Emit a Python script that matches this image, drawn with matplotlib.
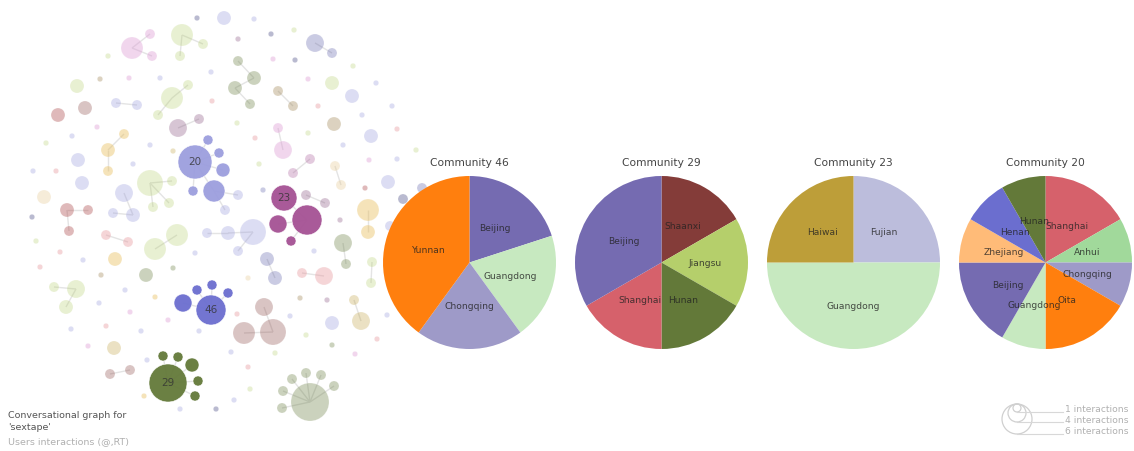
import matplotlib
matplotlib.use('Agg')
import matplotlib.pyplot as plt
from matplotlib.patches import Circle
from matplotlib.collections import LineCollection

W, H = 1134, 452

# ---- network layout (x, y, radius) in pixel space, grouped by colour ----
lavender = [(224, 19, 7), (254, 20, 2.7), (211, 73, 2.7), (160, 79, 2.7), (116, 104, 5), (137, 106, 5),
            (72, 137, 2.7), (150, 146, 2.7), (78, 161, 7), (33, 172, 2.7), (133, 165, 2.7), (82, 184, 7),
            (124, 194, 9), (113, 214, 5), (133, 216, 7), (352, 97, 7), (376, 84, 2.7), (392, 107, 2.7),
            (362, 116, 2.7), (371, 137, 7), (343, 146, 2.7), (397, 160, 2.7), (388, 183, 7), (238, 196, 5),
            (225, 211, 5), (253, 233, 13), (228, 234, 7), (207, 234, 5), (238, 252, 5), (314, 252, 2.7),
            (332, 324, 7), (290, 317, 2.7), (387, 316, 2.7), (231, 353, 2.7), (234, 401, 2.7), (180, 410, 2.7),
            (147, 361, 2.7), (199, 332, 2.7), (141, 332, 2.7), (195, 254, 2.7), (83, 261, 2.7), (125, 291, 2.7),
            (99, 304, 2.7), (71, 330, 2.7), (390, 227, 5)]
slate = [(197, 19, 2.7), (271, 35, 2.7), (295, 61, 2.7), (32, 218, 2.7), (403, 200, 5), (216, 410, 2.7)]
slateblue = [(315, 44, 9), (332, 54, 5), (267, 260, 7), (275, 279, 7), (263, 191, 2.7), (422, 189, 5)]
lightgreen = [(182, 36, 11), (203, 45, 5), (180, 57, 5), (108, 57, 2.7), (77, 87, 7), (172, 99, 11),
              (188, 86, 5), (158, 116, 5), (46, 144, 2.7), (150, 184, 13), (172, 182, 5), (153, 208, 5),
              (169, 204, 5), (294, 31, 2.7), (353, 67, 2.7), (332, 84, 7), (237, 124, 2.7), (308, 134, 2.7),
              (259, 165, 2.7), (416, 151, 2.7), (372, 263, 5), (371, 284, 5), (306, 336, 2.7), (275, 354, 2.7),
              (250, 390, 2.7), (36, 242, 2.7), (177, 236, 11), (155, 250, 11), (54, 288, 5), (76, 290, 9),
              (66, 308, 7)]
pink = [(132, 49, 11), (150, 35, 5), (152, 57, 5), (129, 79, 2.7), (97, 128, 2.7), (273, 60, 2.7),
        (308, 80, 2.7), (278, 129, 5), (283, 151, 9), (369, 161, 2.7), (355, 355, 2.7), (130, 313, 2.7),
        (168, 321, 2.7), (88, 347, 2.7)]
redpink = [(212, 102, 2.7), (56, 172, 2.7), (318, 107, 2.7), (255, 139, 2.7), (397, 130, 2.7),
           (302, 274, 5), (324, 277, 9), (237, 315, 2.7), (377, 340, 2.7), (248, 368, 2.7), (60, 253, 2.7),
           (40, 268, 2.7), (106, 236, 5), (128, 243, 5), (106, 327, 2.7)]
rose = [(58, 116, 7), (67, 211, 7), (88, 211, 5), (69, 232, 5), (365, 189, 2.7)]
maroon = [(85, 109, 7), (264, 308, 9), (244, 334, 11), (273, 333, 13), (110, 375, 5), (130, 371, 5)]
olive = [(238, 62, 5), (254, 79, 7), (235, 89, 7), (250, 105, 5), (343, 244, 9), (346, 265, 5),
         (146, 276, 7), (173, 269, 2.7), (332, 346, 2.7), (310, 403, 19), (292, 380, 5), (306, 374, 5),
         (321, 376, 5), (334, 387, 5), (283, 392, 5), (282, 409, 5)]
tanbrown = [(100, 80, 2.7), (278, 92, 5), (293, 107, 5), (334, 125, 7), (300, 299, 2.7), (101, 276, 2.7)]
tan = [(173, 152, 2.7), (354, 301, 5), (361, 322, 9), (114, 349, 7)]
gold = [(124, 135, 5), (108, 151, 7), (108, 172, 5), (368, 211, 11), (368, 233, 7), (115, 260, 7),
        (155, 298, 2.7), (144, 397, 2.7)]
cream = [(44, 198, 7), (335, 167, 5), (341, 186, 5), (248, 279, 2.7)]
mauve = [(238, 40, 2.7), (178, 129, 9), (199, 120, 5), (306, 196, 5), (325, 204, 5), (340, 221, 2.7),
         (327, 301, 2.7)]
mauvepink = [(310, 160, 5), (293, 174, 5)]

# highlighted communities
group20 = [(195, 163, 17), (208, 141, 5), (219, 154, 5), (223, 171, 7), (214, 192, 11), (193, 192, 5)]
group23 = [(284, 199, 13), (307, 221, 15), (278, 225, 9), (291, 242, 5)]
group46 = [(211, 311, 15), (212, 286, 5), (197, 291, 5), (228, 294, 5), (183, 304, 9)]
group29 = [(168, 384, 19), (163, 357, 5), (178, 358, 5), (192, 366, 7), (198, 382, 5), (195, 397, 5)]
group_names = ['20', '23', '46', '29']

links = [((182, 36), (203, 45)), ((182, 36), (180, 57)), ((132, 49), (150, 35)), ((132, 49), (152, 57)),
         ((172, 99), (188, 86)), ((172, 99), (158, 116)), ((116, 104), (137, 106)),
         ((124, 135), (108, 151)), ((108, 151), (108, 172)), ((178, 129), (199, 120)),
         ((195, 163), (208, 141)), ((195, 163), (219, 154)), ((195, 163), (223, 171)),
         ((195, 163), (214, 192)), ((195, 163), (193, 192)), ((214, 192), (238, 196)), ((214, 192), (225, 211)),
         ((150, 184), (172, 182)), ((150, 184), (153, 208)), ((150, 184), (169, 204)),
         ((124, 194), (133, 216)), ((113, 214), (133, 216)),
         ((67, 211), (88, 211)), ((67, 211), (69, 232)),
         ((238, 62), (254, 79)), ((254, 79), (235, 89)), ((235, 89), (250, 105)),
         ((315, 44), (332, 54)), ((278, 92), (293, 107)), ((278, 129), (283, 151)), ((310, 160), (293, 174)),
         ((335, 167), (341, 186)), ((368, 211), (368, 233)),
         ((284, 199), (307, 221)), ((278, 225), (307, 221)), ((291, 242), (307, 221)), ((306, 196), (325, 204)),
         ((253, 233), (228, 234)), ((228, 234), (207, 234)), ((253, 233), (238, 252)),
         ((267, 260), (275, 279)), ((343, 244), (346, 265)), ((302, 274), (324, 277)),
         ((372, 263), (371, 284)), ((354, 301), (361, 322)),
         ((211, 311), (212, 286)), ((211, 311), (228, 294)), ((211, 311), (197, 291)), ((211, 311), (183, 304)),
         ((264, 308), (273, 333)), ((244, 334), (273, 333)),
         ((310, 403), (292, 380)), ((310, 403), (306, 374)), ((310, 403), (321, 376)), ((310, 403), (334, 387)),
         ((310, 403), (283, 392)), ((310, 403), (282, 409)),
         ((168, 384), (163, 357)), ((168, 384), (178, 358)), ((168, 384), (192, 366)),
         ((168, 384), (198, 382)), ((168, 384), (195, 397)),
         ((110, 375), (130, 371)), ((177, 236), (155, 250)), ((106, 236), (128, 243)),
         ((54, 288), (76, 290)), ((76, 290), (66, 308))]

# ---- pie data ----
pie_titles = ['Community 46', 'Community 29', 'Community 23', 'Community 20']
pie_centers = [469.5, 661.5, 853.5, 1045.5]
c46_labels = ['Beijing', 'Guangdong', 'Chongqing', 'Yunnan']
c46_values = [1, 1, 1, 2]
c46_colors = ['#756bb1', '#c7e9c0', '#9e9ac8', '#ff7f0e']
c29_labels = ['Shaanxi', 'Jiangsu', 'Hunan', 'Shanghai', 'Beijing']
c29_values = [1, 1, 1, 1, 2]
c29_colors = ['#843c39', '#b5cf6b', '#637939', '#d6616b', '#756bb1']
c23_labels = ['Fujian', 'Guangdong', 'Haiwai']
c23_values = [1, 2, 1]
c23_colors = ['#bcbddc', '#c7e9c0', '#bd9e39']
c20_labels = ['Shanghai', 'Anhui', 'Chongqing', 'Oita', 'Guangdong', 'Beijing', 'Zhejiang', 'Henan', 'Hunan']
c20_values = [2, 1, 1, 2, 1, 2, 1, 1, 1]
c20_colors = ['#d6616b', '#a1d99b', '#9e9ac8', '#ff7f0e', '#c7e9c0', '#756bb1', '#ffbb78', '#6b6ecf', '#637939']

legend_labels = ['1 interactions', '4 interactions', '6 interactions']
legend_radii = [4, 9, 15]

fig = plt.figure(figsize=(W / 100, H / 100), dpi=100)
ax = fig.add_axes([0, 0, 1, 1])
ax.set_xlim(0, W)
ax.set_ylim(H, 0)
ax.axis('off')

# edges first
segs = [[a, b] for a, b in links]
ax.add_collection(LineCollection(segs, colors='#e4e4e4', linewidths=1.0, zorder=1))

background = [(lavender, '#9c9ede', 0.35), (slate, '#393b79', 0.35), (slateblue, '#5254a3', 0.3),
              (lightgreen, '#b5cf6b', 0.3), (pink, '#de9ed6', 0.42), (redpink, '#e7969c', 0.4),
              (rose, '#ad494a', 0.38), (maroon, '#843c39', 0.3), (olive, '#637939', 0.33),
              (tanbrown, '#8c6d31', 0.3), (tan, '#bd9e39', 0.3), (gold, '#e7ba52', 0.4),
              (cream, '#e7cb94', 0.35), (mauve, '#7b4173', 0.3), (mauvepink, '#a55194', 0.3)]
for nodes, col, a in background:
    for x, y, r in nodes:
        ax.add_patch(Circle((x, y), r, facecolor=col, alpha=a, edgecolor='white', lw=0.4, zorder=2))

groups = [(group20, '#9c9ede'), (group23, '#a55194'), (group46, '#6b6ecf'), (group29, '#637939')]
for (nodes, col), name in zip(groups, group_names):
    for x, y, r in nodes:
        ax.add_patch(Circle((x, y), r, facecolor=col, alpha=0.95, edgecolor='white', lw=0.4, zorder=3))
    x, y, r = nodes[0]
    ax.text(x, y - 1, name, ha='center', va='center', fontsize=7.5, color='#333333', alpha=0.8, zorder=4)

# caption bottom-left
ax.text(8, 416, 'Conversational graph for', fontsize=6.8, color='#555555', va='center')
ax.text(8, 428, "'sextape'", fontsize=6.8, color='#555555', va='center')
ax.text(8, 442, 'Users interactions (@,RT)', fontsize=6.8, color='#b0b0b0', va='center')

# size legend bottom-right
top = 405
for r, lab, ty in zip(legend_radii, legend_labels, [410, 421, 432]):
    ax.add_patch(Circle((1017, top + r), r, facecolor='none', edgecolor='#d0d0d0', lw=0.9))
    ax.plot([1017, 1063], [top + 2 * r, top + 2 * r], color='#d8d8d8', lw=0.8)
    ax.text(1065, ty, lab, fontsize=6.6, color='#b0b0b0', va='center')

# pies
R = 86.5
cy = 263.5
pie_data = [(c46_labels, c46_values, c46_colors), (c29_labels, c29_values, c29_colors),
            (c23_labels, c23_values, c23_colors), (c20_labels, c20_values, c20_colors)]
for cx, title, (labels, values, colors) in zip(pie_centers, pie_titles, pie_data):
    pax = fig.add_axes([(cx - R) / W, (H - (cy + R)) / H, 2 * R / W, 2 * R / H])
    wedges, texts = pax.pie(values, labels=labels, colors=colors, startangle=90, counterclock=False,
                            labeldistance=0.5, wedgeprops=dict(linewidth=0))
    for t in texts:
        t.set_ha('center')
        t.set_va('center')
        t.set_fontsize(6.6)
        t.set_color('#222222')
        t.set_alpha(0.8)
    pax.set_xlim(-1, 1)
    pax.set_ylim(-1, 1)
    pax.text(0, 1 + (177 - 163) / R, title, transform=pax.transData, ha='center', va='center',
             fontsize=7.7, color='#444444')

fig.savefig('out.png', dpi=100)
